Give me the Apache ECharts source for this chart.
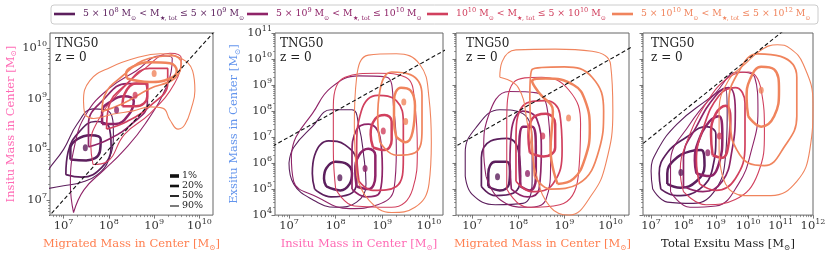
<!DOCTYPE html>
<html><head><meta charset="utf-8">
<script src="https://cdn.jsdelivr.net/npm/echarts@6/dist/echarts.min.js"></script>
<style>html,body{margin:0;padding:0;background:#fff}#c{width:831px;height:257px}</style>
</head><body><div id="c"></div><script>
// ---------------- DATA (all values are log10 of masses in Msun) ----------------
const GROUP_LABELS = [
  '{n|5 × 10}{s|8}{n| M}{b|⊙}{n| < M}{b|★, tot}{n| ≤ 5 × 10}{s|9}{n| M}{b|⊙}',
  '{n|5 × 10}{s|9}{n| M}{b|⊙}{n| < M}{b|★, tot}{n| ≤ 10}{s|10}{n| M}{b|⊙}',
  '{n|10}{s|10}{n| M}{b|⊙}{n| < M}{b|★, tot}{n| ≤ 5 × 10}{s|10}{n| M}{b|⊙}',
  '{n|5 × 10}{s|10}{n| M}{b|⊙}{n| < M}{b|★, tot}{n| ≤ 5 × 10}{s|12}{n| M}{b|⊙}'
];
const LEVEL_NAMES = ['1%', '20%', '50%', '90%'];
const PANEL_TEXT = 'TNG50\nz = 0';
const X_NAMES = ['Migrated Mass in Center [M{sb|⊙}]', 'Insitu Mass in Center [M{sb|⊙}]', 'Migrated Mass in Center [M{sb|⊙}]', 'Total Exsitu Mass [M{sb|⊙}]'];
const Y_NAMES = ['Insitu Mass in Center [M{sb|⊙}]', 'Exsitu Mass in Center [M{sb|⊙}]', '', ''];
const X_RANGE = [[6.7, 10.3], [6.7, 10.3], [6.65, 10.4], [6.75, 12]];
const Y_RANGE = [[6.7, 10.3], [4, 11], [4, 11], [4, 11]];
const X_TICKS = [[7, 8, 9, 10], [7, 8, 9, 10], [7, 8, 9, 10], [7, 8, 9, 10, 11, 12]];
const Y_TICKS = [[7, 8, 9, 10], [4, 5, 6, 7, 8, 9, 10, 11], [4, 5, 6, 7, 8, 9, 10, 11], [4, 5, 6, 7, 8, 9, 10, 11]];
const ONE_TO_ONE = [[3, 3], [13, 13]];

// Panel 1: migrated (x) vs insitu (y)
const P1_G1_90 = [[6.5,7.2],[7.0,7.28],[7.4,7.35],[7.75,7.5],[8.0,7.8],[8.1,8.3],[8.0,8.75],[7.65,8.8],[7.3,8.5],[7.0,8.0],[6.6,7.5],[6.5,7.2]];
const P1_G1_50 = [[7.05,7.5],[7.4,7.45],[7.85,7.65],[8.05,8.05],[8.0,8.45],[7.7,8.55],[7.35,8.35],[7.1,7.95],[7.05,7.5]];
const P1_G1_20 = [[7.15,7.8],[7.5,7.78],[7.8,7.95],[7.82,8.2],[7.6,8.28],[7.3,8.2],[7.15,8.0],[7.15,7.8]];
const P1_G2_90 = [[7.22,6.75],[7.45,7.2],[7.9,7.6],[8.3,7.95],[8.8,8.5],[9.3,9.3],[9.4,9.8],[9.15,9.85],[8.6,9.55],[8.0,9.2],[7.5,8.7],[7.25,8.1],[7.15,7.3],[7.22,6.75]];
const P1_G2_50 = [[7.55,8.05],[8.0,8.2],[8.5,8.5],[8.85,8.9],[8.8,9.3],[8.4,9.3],[7.9,9.0],[7.55,8.5],[7.55,8.05]];
const P1_G2_20 = [[7.85,8.5],[8.15,8.5],[8.45,8.7],[8.55,8.95],[8.35,9.05],[8.05,8.95],[7.85,8.75],[7.85,8.5]];
const P1_G3_90 = [[7.65,7.7],[7.95,7.75],[8.35,8.3],[8.9,8.7],[9.45,9.3],[9.6,9.8],[9.35,9.9],[8.8,9.6],[8.2,9.1],[7.75,8.55],[7.6,8.1],[7.65,7.7]];
const P1_G3_50 = [[7.95,8.4],[8.4,8.55],[8.9,8.85],[9.3,9.3],[9.3,9.6],[8.9,9.6],[8.4,9.3],[8.0,8.85],[7.95,8.4]];
const P1_G3_20 = [[8.3,8.85],[8.6,8.85],[8.85,9.05],[8.85,9.3],[8.6,9.3],[8.35,9.1],[8.3,8.85]];
const P1_G4_90 = [[7.47,8.68],[7.44,8.95],[7.58,9.36],[8.03,9.62],[8.61,9.81],[9.13,9.89],[9.57,9.81],[9.85,9.55],[9.9,9.16],[9.83,8.84],[9.68,8.49],[9.53,8.4],[9.35,8.58],[9.2,8.81],[8.91,8.84],[8.54,8.76],[8.1,8.7],[7.66,8.61],[7.47,8.68]];
const P1_G4_50 = [[7.85,8.75],[8.3,8.9],[8.9,9.2],[9.45,9.4],[9.6,9.7],[9.4,9.85],[8.9,9.8],[8.3,9.45],[7.9,9.05],[7.85,8.75]];
const P1_G4_20 = [[8.4,9.4],[8.9,9.33],[9.35,9.4],[9.5,9.55],[9.35,9.7],[8.9,9.72],[8.5,9.62],[8.38,9.5],[8.4,9.4]];
const P1_PEAKS = [[[7.48,8.03]], [[8.17,8.78]], [[8.58,9.07]], [[9.0,9.5]]];

// Panel 2: insitu (x) vs exsitu (y)
const P2_G1_90 = [[7.0,6.0],[7.1,5.2],[7.5,4.6],[8.0,4.3],[8.45,4.5],[8.65,5.2],[8.6,6.3],[8.5,7.4],[8.35,8.05],[7.9,8.05],[7.5,7.4],[7.1,6.6],[7.0,6.0]];
const P2_G1_50 = [[7.55,5.0],[7.9,4.7],[8.3,4.8],[8.45,5.3],[8.45,6.0],[8.2,6.7],[7.85,6.85],[7.55,6.3],[7.5,5.6],[7.55,5.0]];
const P2_G1_20 = [[7.8,5.1],[8.1,4.95],[8.3,5.2],[8.35,5.6],[8.25,5.95],[8.0,6.05],[7.8,5.8],[7.75,5.4],[7.8,5.1]];
const P2_G2_90 = [[7.05,6.3],[7.1,5.3],[7.6,4.7],[8.3,4.25],[8.9,4.4],[9.25,5.0],[9.3,6.5],[9.25,8.0],[9.1,9.3],[8.5,9.35],[7.9,8.9],[7.5,7.9],[7.15,7.0],[7.05,6.3]];
const P2_G2_50 = [[8.35,5.0],[8.65,4.7],[8.95,4.9],[9.0,5.8],[8.95,7.0],[8.7,7.5],[8.45,7.3],[8.35,6.3],[8.35,5.0]];
const P2_G2_20 = [[8.45,5.1],[8.7,5.0],[8.85,5.5],[8.85,6.3],[8.7,6.55],[8.5,6.3],[8.42,5.7],[8.45,5.1]];
const P2_G3_90 = [[8.0,5.0],[8.4,4.35],[9.2,4.3],[9.65,5.0],[9.75,6.5],[9.7,8.2],[9.5,9.3],[8.9,9.45],[8.2,9.3],[7.95,8.2],[7.95,6.5],[8.0,5.0]];
const P2_G3_50 = [[8.5,5.3],[8.8,4.95],[9.3,5.1],[9.45,6.2],[9.45,7.5],[9.3,8.4],[8.9,8.6],[8.55,8.0],[8.45,6.5],[8.5,5.3]];
const P2_G3_20 = [[8.8,6.6],[9.05,6.5],[9.2,6.9],[9.2,7.6],[9.05,7.85],[8.85,7.7],[8.75,7.1],[8.8,6.6]];
const P2_G4_90 = [[8.45,5.5],[8.7,4.6],[9.2,4.1],[9.7,4.3],[10.0,5.2],[10.05,6.8],[10.0,8.5],[9.8,9.8],[9.3,10.2],[8.7,10.15],[8.45,9.3],[8.4,7.5],[8.45,5.5]];
const P2_G4_50 = [[8.95,6.8],[9.3,6.3],[9.7,6.4],[9.85,7.3],[9.85,8.6],[9.6,9.4],[9.2,9.5],[8.95,8.8],[8.9,7.7],[8.95,6.8]];
const P2_G4_20 = [[9.3,7.0],[9.5,6.8],[9.65,7.2],[9.7,8.2],[9.6,8.8],[9.4,8.9],[9.25,8.4],[9.25,7.6],[9.3,7.0]];
const P2_PEAKS = [[[8.09,5.44]], [[8.63,5.79]], [[9.02,7.23]], [[9.46,8.35],[9.5,7.6]]];

// Panel 3: migrated (x) vs exsitu (y)
const P3_G1_90 = [[6.85,5.5],[7.0,4.8],[7.5,4.4],[8.1,4.45],[8.3,5.3],[8.3,6.8],[8.1,7.9],[7.6,8.05],[7.1,7.4],[6.85,6.4],[6.85,5.5]];
const P3_G1_50 = [[7.2,5.1],[7.5,4.75],[7.9,4.85],[8.05,5.5],[8.0,6.5],[7.75,6.95],[7.4,6.85],[7.2,6.2],[7.2,5.1]];
const P3_G1_20 = [[7.35,5.1],[7.6,4.95],[7.8,5.2],[7.82,5.7],[7.75,6.05],[7.5,6.05],[7.35,5.6],[7.35,5.1]];
const P3_G2_90 = [[7.3,5.5],[7.6,4.6],[8.2,4.3],[8.6,4.6],[8.7,6.0],[8.65,7.8],[8.4,8.7],[7.8,8.75],[7.35,7.8],[7.25,6.5],[7.3,5.5]];
const P3_G2_50 = [[7.85,5.0],[8.2,4.7],[8.45,5.0],[8.5,6.5],[8.4,7.7],[8.1,8.0],[7.85,7.2],[7.82,6.0],[7.85,5.0]];
const P3_G2_20 = [[8.05,5.1],[8.25,4.95],[8.38,5.4],[8.38,6.6],[8.3,7.4],[8.1,7.4],[8.02,6.3],[8.05,5.1]];
const P3_G3_90 = [[7.75,5.0],[8.2,4.3],[8.9,4.4],[9.3,5.5],[9.35,7.5],[9.1,8.8],[8.5,9.3],[7.9,9.1],[7.75,7.5],[7.75,5.0]];
const P3_G3_50 = [[7.95,5.3],[8.3,4.9],[8.75,5.2],[8.95,6.5],[8.9,7.9],[8.6,8.4],[8.1,8.2],[7.95,6.8],[7.95,5.3]];
const P3_G3_20 = [[8.25,6.4],[8.55,6.25],[8.8,6.6],[8.8,7.5],[8.6,7.9],[8.3,7.7],[8.22,7.0],[8.25,6.4]];
const P3_G4_90 = [[7.6,9.3],[7.65,9.9],[7.95,10.35],[8.8,10.38],[9.6,10.3],[10.0,9.8],[10.05,8.0],[9.9,6.0],[9.6,4.8],[9.1,4.0],[8.7,4.3],[8.4,5.5],[8.2,7.5],[8.0,8.9],[7.6,9.3]];
const P3_G4_50 = [[8.35,5.5],[8.7,5.0],[9.3,5.2],[9.75,6.5],[9.85,8.0],[9.6,9.3],[9.0,9.7],[8.3,9.6],[8.25,8.5],[8.3,6.8],[8.35,5.5]];
const P3_G4_20 = [[8.85,5.2],[9.2,5.4],[9.45,6.2],[9.55,7.3],[9.45,8.4],[9.2,9.0],[8.6,9.25],[8.3,9.15],[8.45,8.7],[8.75,8.0],[8.7,6.5],[8.85,5.2]];
const P3_PEAKS = [[[7.55,5.47]], [[8.2,5.6]], [[8.53,7.04]], [[9.09,7.73]]];

// Panel 4: total exsitu (x) vs exsitu in center (y)
const P4_G1_90 = [[7.05,5.0],[7.5,4.5],[8.3,4.45],[9.0,5.0],[9.3,6.3],[9.35,7.8],[9.3,8.9],[8.7,8.4],[7.8,7.5],[7.2,6.5],[7.0,5.7],[7.05,5.0]];
const P4_G1_50 = [[7.3,5.0],[7.8,4.75],[8.5,5.0],[8.9,5.8],[9.0,7.1],[8.7,7.4],[8.1,7.0],[7.5,6.4],[7.25,5.6],[7.3,5.0]];
const P4_G1_20 = [[7.5,5.2],[7.9,5.05],[8.4,5.3],[8.65,5.9],[8.55,6.5],[8.2,6.45],[7.7,6.1],[7.5,5.6],[7.5,5.2]];
const P4_G2_90 = [[7.6,4.9],[8.2,4.3],[9.0,4.35],[9.7,5.2],[10.1,6.5],[10.3,8.0],[10.2,9.3],[9.7,9.5],[9.0,8.7],[8.2,7.5],[7.6,6.0],[7.6,4.9]];
const P4_G2_50 = [[8.0,5.1],[8.6,4.9],[9.2,5.3],[9.5,6.5],[9.6,8.0],[9.4,8.9],[9.0,8.6],[8.4,7.4],[8.0,6.2],[8.0,5.1]];
const P4_G2_20 = [[8.4,5.6],[8.8,5.5],[9.1,6.0],[9.2,7.0],[9.1,7.8],[8.8,7.6],[8.45,6.8],[8.35,6.1],[8.4,5.6]];
const P4_G3_90 = [[8.0,4.9],[8.7,4.4],[9.6,4.6],[10.3,5.6],[10.5,7.2],[10.4,8.8],[10.0,9.5],[9.4,9.3],[8.7,8.3],[8.1,6.8],[7.9,5.7],[8.0,4.9]];
const P4_G3_50 = [[8.5,5.2],[9.0,4.95],[9.6,5.4],[9.9,6.7],[9.9,8.3],[9.6,8.9],[9.1,8.6],[8.6,7.3],[8.4,6.1],[8.5,5.2]];
const P4_G3_20 = [[8.9,6.3],[9.2,6.2],[9.4,6.8],[9.45,7.7],[9.3,8.2],[9.0,7.9],[8.85,7.1],[8.9,6.3]];
const P4_G4_90 = [[9.1,6.5],[9.3,5.2],[9.9,4.75],[10.7,4.75],[11.5,5.3],[11.9,6.5],[12.0,8.3],[11.7,9.8],[11.3,10.4],[10.9,10.55],[10.4,10.35],[9.9,9.8],[9.4,9.2],[9.1,8.0],[9.1,6.5]];
const P4_G4_50 = [[9.5,6.9],[10.0,6.0],[10.5,5.9],[11.1,6.6],[11.5,7.8],[11.5,9.3],[11.0,10.1],[10.3,10.2],[9.7,9.5],[9.4,8.3],[9.5,6.9]];
const P4_G4_20 = [[10.0,7.8],[10.4,7.4],[10.8,7.8],[10.95,8.8],[10.8,9.6],[10.4,9.7],[10.05,9.2],[9.95,8.5],[10.0,7.8]];
const P4_PEAKS = [[[7.92,5.64]], [[8.75,6.4]], [[9.11,7.04]], [[10.4,8.8]]];

// ---------------- assembly ----------------
const CONTOURS = [
  [[P1_G1_90,P1_G1_50,P1_G1_20],[P1_G2_90,P1_G2_50,P1_G2_20],[P1_G3_90,P1_G3_50,P1_G3_20],[P1_G4_90,P1_G4_50,P1_G4_20]],
  [[P2_G1_90,P2_G1_50,P2_G1_20],[P2_G2_90,P2_G2_50,P2_G2_20],[P2_G3_90,P2_G3_50,P2_G3_20],[P2_G4_90,P2_G4_50,P2_G4_20]],
  [[P3_G1_90,P3_G1_50,P3_G1_20],[P3_G2_90,P3_G2_50,P3_G2_20],[P3_G3_90,P3_G3_50,P3_G3_20],[P3_G4_90,P3_G4_50,P3_G4_20]],
  [[P4_G1_90,P4_G1_50,P4_G1_20],[P4_G2_90,P4_G2_50,P4_G2_20],[P4_G3_90,P4_G3_50,P4_G3_20],[P4_G4_90,P4_G4_50,P4_G4_20]]
];
const PEAKS = [P1_PEAKS, P2_PEAKS, P3_PEAKS, P4_PEAKS];

const COLORS = ['#5c1f5d', '#8f2468', '#d1405e', '#f0845d'];
const WIDTHS_90_50_20 = [1.1, 1.7, 2.5];
const LEVEL_KEY_HEIGHTS = [3.6, 2.6, 1.8, 1.1];
const X_NAME_COLORS = ['#ff7f50', '#ff69b4', '#ff7f50', '#222'];
const Y_NAME_COLORS = ['#ff69b4', '#6495ed', '#222', '#222'];
const FONT = 'DejaVu Serif';
const GRIDS = [
  {left: 50, top: 33, width: 163, height: 186},
  {left: 275, top: 33, width: 168, height: 186},
  {left: 456, top: 33, width: 173, height: 186},
  {left: 643, top: 33, width: 170, height: 186}
];
const TEXT_POS = [[55, 37], [280, 37], [466, 37], [651, 37]];
const LEGEND_POS = [54, 247, 427, 612];

function minorTicks(r) {
  const out = [];
  for (let e = Math.floor(r[0]) - 1; e <= Math.ceil(r[1]); e++)
    for (let k = 2; k <= 9; k++) {
      const v = e + Math.log10(k);
      if (v > r[0] && v < r[1]) out.push(v);
    }
  return out;
}
const tickRich = {
  b: {fontFamily: FONT, fontSize: 11.5, color: '#333', lineHeight: 16},
  s: {fontFamily: FONT, fontSize: 8, color: '#333', verticalAlign: 'top', lineHeight: 10}
};
const nameRich = (c) => ({sb: {fontFamily: FONT, fontSize: 7.5, color: c, verticalAlign: 'bottom', lineHeight: 9}});

const xAxis = [], yAxis = [], series = [], title = [];
GRIDS.forEach((g, p) => {
  xAxis.push({
    type: 'value', gridIndex: p, min: X_RANGE[p][0], max: X_RANGE[p][1], position: 'bottom',
    name: X_NAMES[p], nameLocation: 'middle', nameGap: 19,
    nameTextStyle: {fontFamily: FONT, fontSize: 11.5, color: X_NAME_COLORS[p], lineHeight: 15, rich: nameRich(X_NAME_COLORS[p])},
    axisLine: {show: false, onZero: false},
    axisTick: {show: true, inside: false, length: 3.5, customValues: X_TICKS[p], lineStyle: {color: '#555', width: 0.8}},
    axisLabel: {show: true, customValues: X_TICKS[p], margin: 3, formatter: v => '{b|10}{s|' + Math.round(v) + '}', rich: tickRich},
    splitLine: {show: false}
  });
  xAxis.push({
    type: 'value', gridIndex: p, min: X_RANGE[p][0], max: X_RANGE[p][1], position: 'bottom',
    axisLine: {show: false, onZero: false},
    axisTick: {show: true, inside: false, length: 2, customValues: minorTicks(X_RANGE[p]), lineStyle: {color: '#555', width: 0.6}},
    axisLabel: {show: false}, splitLine: {show: false}
  });
  yAxis.push({
    type: 'value', gridIndex: p, min: Y_RANGE[p][0], max: Y_RANGE[p][1], position: 'left',
    name: Y_NAMES[p], nameLocation: 'middle', nameGap: p === 0 ? 31 : 33,
    nameTextStyle: {fontFamily: FONT, fontSize: 11.5, color: Y_NAME_COLORS[p], lineHeight: 15, rich: nameRich(Y_NAME_COLORS[p])},
    axisLine: {show: false, onZero: false},
    axisTick: {show: true, inside: false, length: 3.5, customValues: Y_TICKS[p], lineStyle: {color: '#555', width: 0.8}},
    axisLabel: {show: p < 2, customValues: Y_TICKS[p], margin: 3, formatter: v => '{b|10}{s|' + Math.round(v) + '}', rich: tickRich},
    splitLine: {show: false}
  });
  yAxis.push({
    type: 'value', gridIndex: p, min: Y_RANGE[p][0], max: Y_RANGE[p][1], position: 'left',
    axisLine: {show: false, onZero: false},
    axisTick: {show: true, inside: false, length: 2, customValues: minorTicks(Y_RANGE[p]), lineStyle: {color: '#555', width: 0.6}},
    axisLabel: {show: false}, splitLine: {show: false}
  });
  title.push({
    text: PANEL_TEXT, left: TEXT_POS[p][0], top: TEXT_POS[p][1], padding: 0,
    textStyle: {fontFamily: FONT, fontSize: 12, fontWeight: 'normal', color: '#222', lineHeight: 14}
  });
  CONTOURS[p].forEach((levels, gi) => {
    levels.forEach((pts, li) => {
      series.push({
        type: 'line', name: 'c' + p + gi + li, xAxisIndex: 2 * p, yAxisIndex: 2 * p,
        data: pts, smooth: 0.45, symbol: 'none', silent: true, clip: true,
        lineStyle: {color: COLORS[gi], width: WIDTHS_90_50_20[li]}, z: 2 + gi
      });
    });
    series.push({
      type: 'scatter', name: 'peak' + p + gi, xAxisIndex: 2 * p, yAxisIndex: 2 * p,
      data: PEAKS[p][gi], symbol: 'circle', symbolSize: [5, 7], silent: true,
      itemStyle: {color: COLORS[gi]}, z: 6
    });
  });
  series.push({
    type: 'line', name: 'oneToOne' + p, xAxisIndex: 2 * p, yAxisIndex: 2 * p,
    data: ONE_TO_ONE, symbol: 'none', silent: true, clip: true,
    lineStyle: {color: '#111', width: 1.1, type: [4, 2.5]}, z: 8
  });
});

// group key (line swatch + label) as rich-text titles
GROUP_LABELS.forEach((lab, i) => {
  title.push({
    text: '{bar|}{sp|}' + lab, left: LEGEND_POS[i], top: 7, padding: 0,
    textStyle: {fontWeight: 'normal', rich: {
      bar: {width: 21, height: 2.6, padding: 0, borderWidth: 0, backgroundColor: COLORS[i], lineHeight: 14},
      sp: {width: 8, lineHeight: 14},
      n: {fontFamily: FONT, fontSize: 9.3, color: COLORS[i], lineHeight: 14},
      s: {fontFamily: FONT, fontSize: 6.6, color: COLORS[i], verticalAlign: 'top', lineHeight: 8},
      b: {fontFamily: FONT, fontSize: 6.2, color: COLORS[i], verticalAlign: 'bottom', lineHeight: 8}
    }}
  });
});
// contour-level key
const levelRich = {t: {fontFamily: FONT, fontSize: 9.5, color: '#222', lineHeight: 10}, sp: {width: 3, lineHeight: 10}};
LEVEL_KEY_HEIGHTS.forEach((h, i) => { levelRich['k' + i] = {width: 9, height: h, padding: 0, borderWidth: 0, backgroundColor: '#111', lineHeight: 10}; });
title.push({
  text: LEVEL_NAMES.map((n, i) => '{k' + i + '|}{sp|}{t|' + n + '}').join('\n'),
  left: 170, top: 171, padding: 0,
  textStyle: {fontWeight: 'normal', lineHeight: 10, rich: levelRich}
});

const chart = echarts.init(document.getElementById('c'), null, {renderer: 'canvas', width: 831, height: 257});
chart.setOption({
  animation: false,
  backgroundColor: '#fff',
  grid: GRIDS.map(g => Object.assign({show: true, borderColor: '#666', borderWidth: 1, backgroundColor: 'transparent', containLabel: false}, g)),
  xAxis, yAxis, series, title,
  graphic: [{type: 'rect', shape: {x: 51, y: 5, width: 767, height: 19, r: 3}, style: {fill: null, stroke: '#ccc', lineWidth: 1}, silent: true, z: -1}]
});
</script></body></html>
